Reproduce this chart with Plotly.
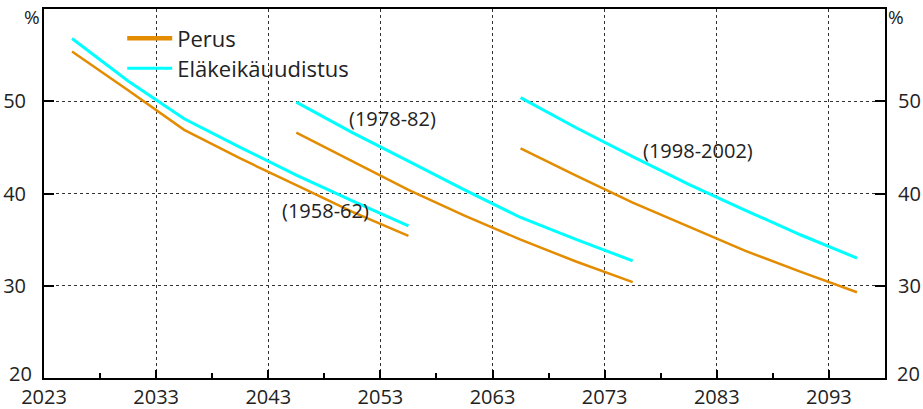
import plotly.graph_objects as go

# Cohort 1958-62
years_1958 = [2025.5, 2030.5, 2035.5, 2040.5, 2045.5, 2050.5, 2055.5]
perus_1958 = [55.4, 51.2, 46.9, 43.8, 40.9, 38.0, 35.4]
uudistus_1958 = [56.8, 52.2, 48.1, 45.0, 42.0, 39.2, 36.5]

# Cohort 1978-82
years_1978 = [2045.5, 2050.5, 2055.5, 2060.5, 2065.5, 2070.5, 2075.5]
perus_1978 = [46.6, 43.5, 40.4, 37.6, 35.0, 32.6, 30.4]
uudistus_1978 = [49.9, 46.6, 43.5, 40.4, 37.4, 35.0, 32.7]

# Cohort 1998-2002
years_1998 = [2065.5, 2070.5, 2075.5, 2080.5, 2085.5, 2090.5, 2095.5]
perus_1998 = [44.9, 41.9, 39.0, 36.4, 33.8, 31.5, 29.3]
uudistus_1998 = [50.4, 47.1, 44.0, 41.0, 38.2, 35.5, 33.0]

series_names = ["Perus", "Eläkeikäuudistus"]
cohort_labels = ["(1958-62)", "(1978-82)", "(1998-2002)"]
label_x = [2048.1, 2054.1, 2081.3]
label_y = [38.2, 48.1, 44.7]
x_ticks = [2023, 2033, 2043, 2053, 2063, 2073, 2083, 2093]
y_ticks = [20, 30, 40, 50]
y_tick_text = ["", "30", "40", "50"]   # "20" drawn separately, nudged up as in the original

ORANGE = "#E38C00"
CYAN = "#00FFFF"
FONT = "Open Sans"
TXT = "#222222"
FS = 20

fig = go.Figure()

cohorts = [
    (years_1958, perus_1958, uudistus_1958),
    (years_1978, perus_1978, uudistus_1978),
    (years_1998, perus_1998, uudistus_1998),
]
for yrs, p, u in cohorts:
    fig.add_trace(go.Scatter(x=yrs, y=u, mode="lines", line=dict(color=CYAN, width=3),
                             showlegend=False, hoverinfo="skip"))
    fig.add_trace(go.Scatter(x=yrs, y=p, mode="lines", line=dict(color=ORANGE, width=2.5),
                             showlegend=False, hoverinfo="skip"))

# legend entries (two separate legends for exact row spacing)
fig.add_trace(go.Scatter(x=[None], y=[None], mode="lines", name=series_names[0],
                         line=dict(color=ORANGE, width=4.5), legend="legend"))
fig.add_trace(go.Scatter(x=[None], y=[None], mode="lines", name=series_names[1],
                         line=dict(color=CYAN, width=3), legend="legend2"))
# invisible trace for right axis
fig.add_trace(go.Scatter(x=[2023], y=[20], yaxis="y2", mode="markers",
                         marker=dict(opacity=0), showlegend=False, hoverinfo="skip"))

for lab, lx, ly in zip(cohort_labels, label_x, label_y):
    fig.add_annotation(x=lx, y=ly, text=lab, showarrow=False,
                       font=dict(family=FONT, size=FS, color=TXT))

fig.add_annotation(xref="paper", yref="paper", x=-0.0258, y=0.979, yanchor="middle",
                   text="%", showarrow=False, font=dict(family=FONT, size=19, color=TXT))
fig.add_annotation(xref="paper", yref="paper", x=1.0253, y=0.979, yanchor="middle",
                   text="%", showarrow=False, font=dict(family=FONT, size=19, color=TXT))
# "20" labels on both sides
fig.add_annotation(xref="paper", yref="y", x=0, y=y_ticks[0], xanchor="right", yanchor="middle",
                   xshift=-10, yshift=5, text=str(y_ticks[0]), showarrow=False,
                   font=dict(family=FONT, size=FS, color=TXT))
fig.add_annotation(xref="paper", yref="y", x=1, y=y_ticks[0], xanchor="left", yanchor="middle",
                   xshift=10, yshift=5, text=str(y_ticks[0]), showarrow=False,
                   font=dict(family=FONT, size=FS, color=TXT))

axis_common = dict(showline=True, linecolor="black", linewidth=2, automargin=False,
                   gridcolor="#333333", griddash="dot", gridwidth=1,
                   zeroline=False, ticks="inside", tickcolor="black", tickwidth=2,
                   tickfont=dict(family=FONT, size=FS, color=TXT))

legend_common = dict(xanchor="left", yanchor="middle", bgcolor="rgba(0,0,0,0)",
                     font=dict(family=FONT, size=22, color=TXT), itemwidth=45)

fig.update_layout(
    width=923, height=409,
    margin=dict(l=44, r=38, t=9, b=31, autoexpand=False),
    plot_bgcolor="white", paper_bgcolor="white",
    font=dict(family=FONT, color=TXT),
    xaxis=dict(range=[2023, 2098], tickvals=x_ticks, ticklen=8, mirror=True,
               minor=dict(tickvals=[2028, 2038, 2048, 2058, 2068, 2078, 2088],
                          ticks="inside", ticklen=5, tickwidth=2, tickcolor="black",
                          showgrid=False),
               **axis_common),
    yaxis=dict(range=[20, 60], tickvals=y_ticks, ticktext=y_tick_text, ticklen=10, mirror=True,
               ticklabelstandoff=12, **axis_common),
    yaxis2=dict(range=[20, 60], tickvals=y_ticks, ticktext=y_tick_text, ticklen=10,
                overlaying="y", side="right",
                showgrid=False, showline=False, zeroline=False, ticks="inside",
                tickcolor="black", tickwidth=2, ticklabelstandoff=12, automargin=False,
                tickfont=dict(family=FONT, size=FS, color=TXT)),
    legend=dict(x=0.093, y=0.92, **legend_common),
    legend2=dict(x=0.093, y=0.839, **legend_common),
)

fig.write_html("out.html", config={"displayModeBar": False})

# remove default page margin so the figure sits at the window's top-left corner
with open("out.html", "r", encoding="utf-8") as f:
    html = f.read()
html = html.replace("<head>", "<head><style>html,body{margin:0;padding:0;overflow:hidden;}</style>", 1)
with open("out.html", "w", encoding="utf-8") as f:
    f.write(html)
